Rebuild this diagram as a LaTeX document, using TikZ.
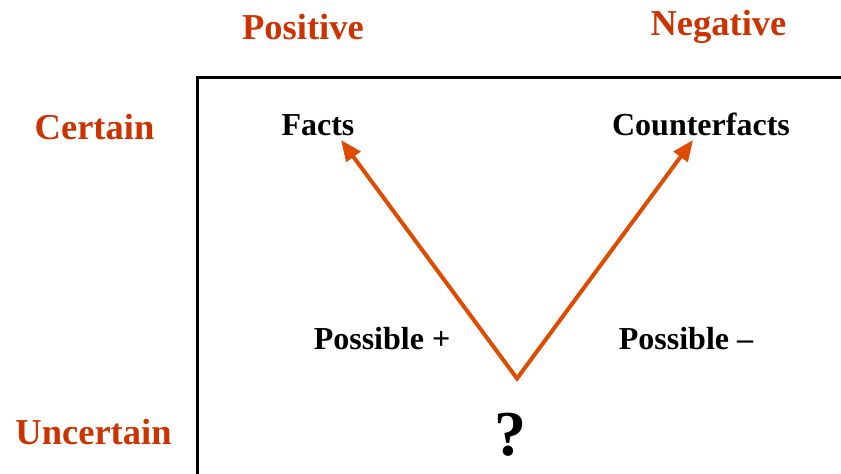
\documentclass[tikz,border=0pt]{standalone}
\usepackage{fontspec}
\setmainfont{Liberation Serif}
\usetikzlibrary{arrows.meta}
\definecolor{lab}{RGB}{204,51,0}
\definecolor{arr}{RGB}{221,76,0}
\begin{document}
\begin{tikzpicture}[x=1pt,y=-1pt,
  axislab/.style={text=lab, font=\bfseries\fontsize{36.5}{40}\selectfont, anchor=base, inner sep=0pt},
  itemlab/.style={font=\bfseries\fontsize{32}{36}\selectfont, anchor=base, inner sep=0pt},
  qlab/.style={font=\bfseries\fontsize{64}{70}\selectfont, anchor=base, inner sep=0pt},
  frameline/.style={line width=3pt, line join=miter},
  arrowline/.style={draw=arr, line width=4pt, line join=miter,
    {Triangle[length=21pt,width=17pt]}-{Triangle[length=21pt,width=17pt]}}]
\useasboundingbox (0,0) rectangle (841,474);
\node[axislab] (pos) at (303,39) {Positive};
\node[axislab] (neg) at (718.5,35.5) {Negative};
\node[axislab] (cert) at (94.5,139.5) {Certain};
\node[axislab] (unc) at (93.5,444) {Uncertain};
\node[itemlab] (facts) at (318,135) {Facts};
\node[itemlab] (cf) at (701,135) {Counterfacts};
\node[itemlab] (pp) at (382,349) {Possible +};
\node[itemlab] (pm) at (686,349) {Possible --};
\node[qlab] (q) at (510,455) {?};
\coordinate (boxbl) at (197,490);
\coordinate (boxtl) at (197,77);
\coordinate (boxtr) at (860,77);
\draw[frameline] (boxbl) -- (boxtl) -- (boxtr);
\coordinate (v) at (517,378.5);
\coordinate (ftip) at (341,140);
\coordinate (ctip) at (693,140);
\draw[arrowline] (ftip) -- (v) -- (ctip);
\end{tikzpicture}
\end{document}
